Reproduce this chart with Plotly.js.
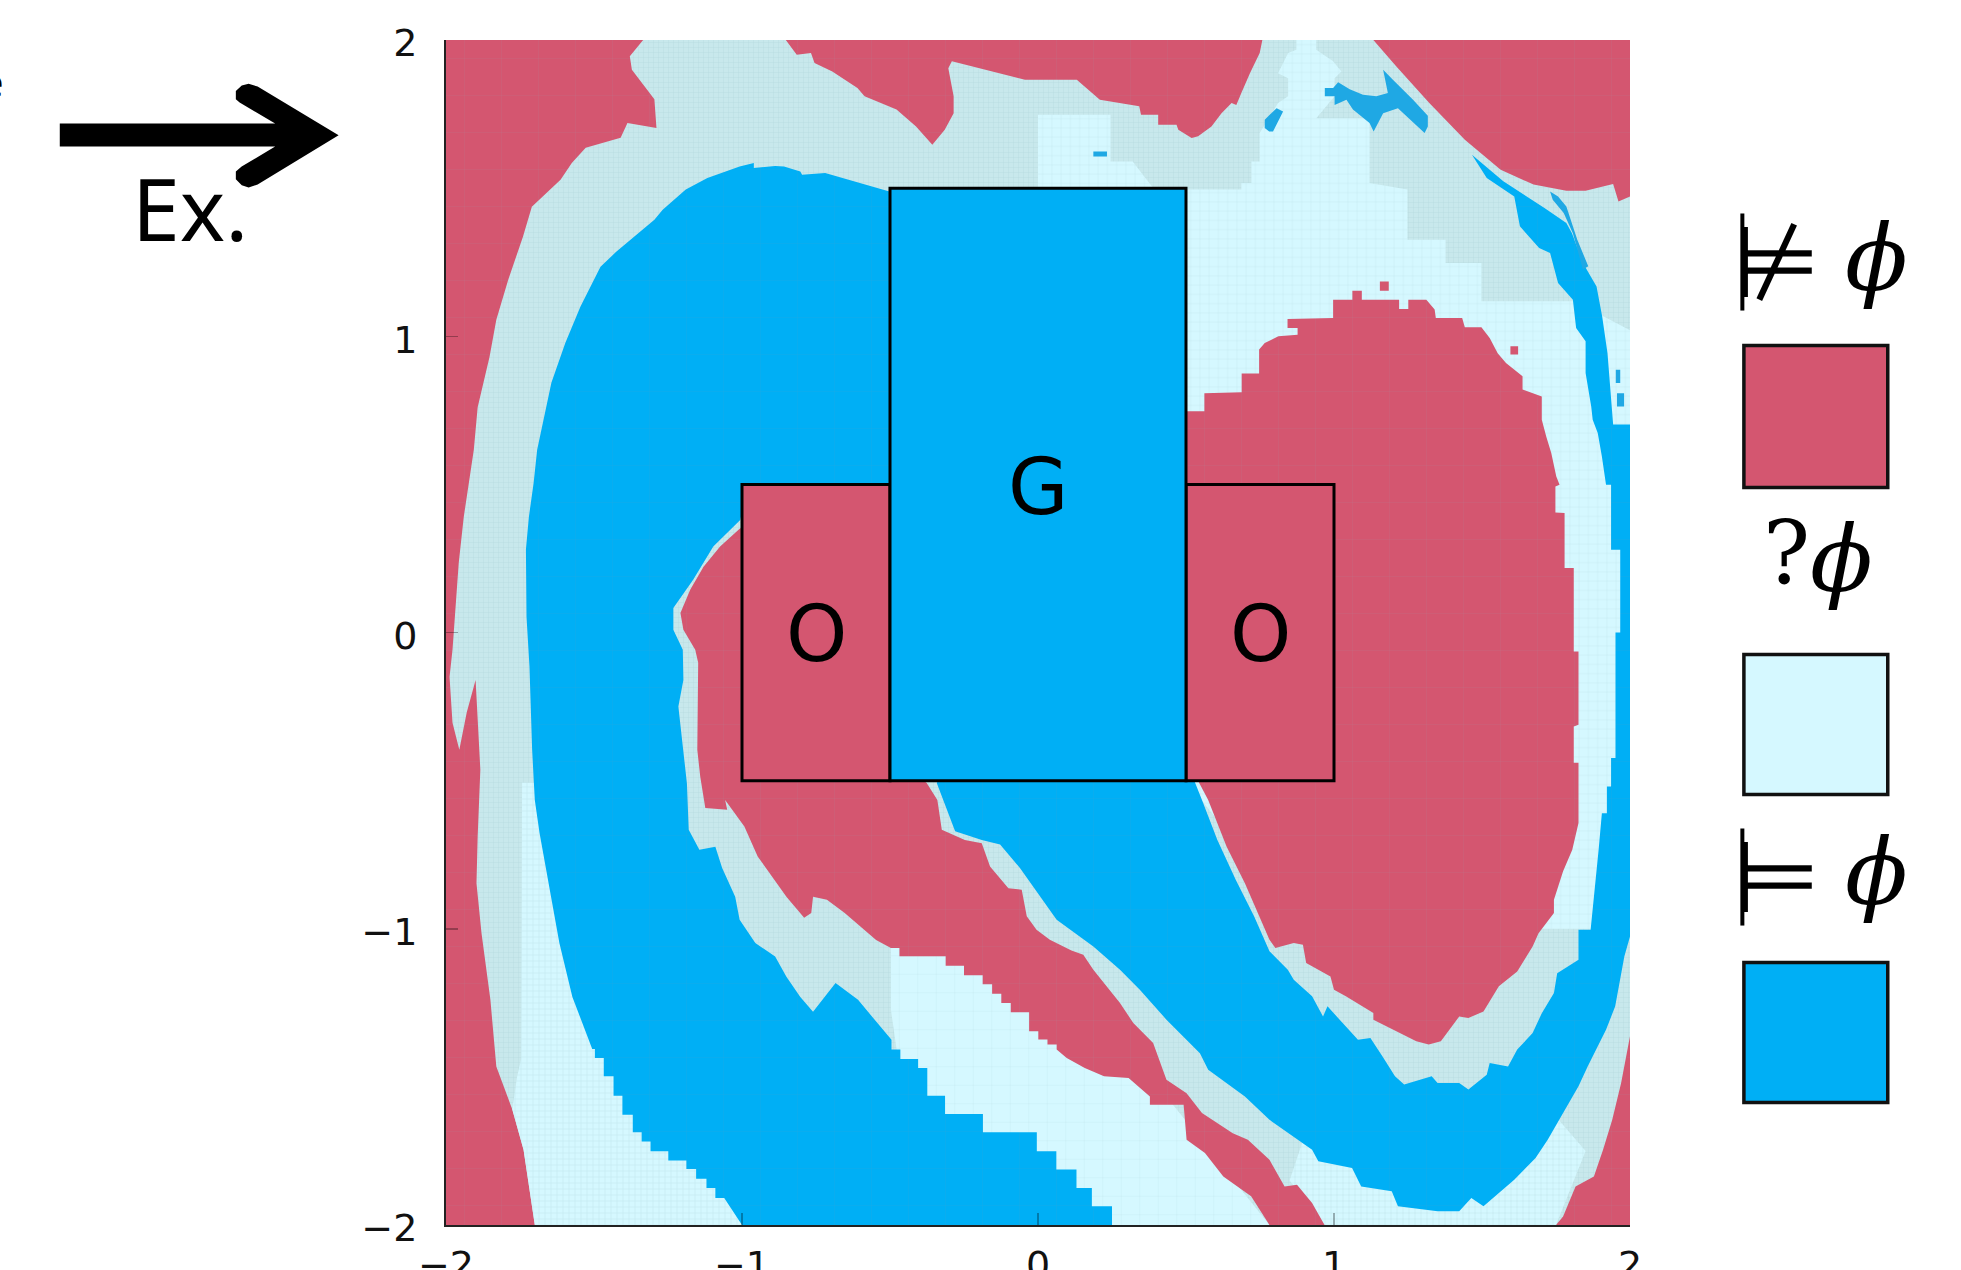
<!DOCTYPE html>
<html><head><meta charset="utf-8">
<script src="https://cdn.plot.ly/plotly-3.0.1.min.js"></script>
<style>html,body{margin:0;padding:0;background:#fff;overflow:hidden}</style>
</head><body><div id="chart" style="width:1961px;height:1270px"></div>
<script>
const RED='#d45670', BLUE='#00aff5', LIGHT='#d5f8ff', GREY='#c8e8ec', DEEP='#1fa8e4';

const frame=[[-2,-2],[2,-2],[2,2],[-2,2]];
const paleAll=[[-1.70,-2],[-1.738,-1.746],[-1.776,-1.61],[-1.83,-1.465],[-1.85,-1.24],[-1.88,-1.015],[-1.897,-.846],[-1.893,-.689],[-1.884,-.463],[-1.894,-.27],[-1.90,-.16],[-1.93,-.27],[-1.955,-.396],[-1.978,-.305],[-1.988,-.15],[-1.978,-.058],[-1.957,.235],[-1.94,.39],[-1.906,.617],[-1.893,.76],[-1.853,.93],[-1.83,1.056],[-1.79,1.19],[-1.74,1.336],[-1.71,1.437],[-1.613,1.528],[-1.575,1.585],[-1.528,1.636],[-1.41,1.67],[-1.387,1.72],[-1.289,1.703],[-1.296,1.80],[-1.372,1.90],[-1.379,1.945],[-1.334,2],[2,2],[2,-1.363],[1.97,-1.521],[1.94,-1.645],[1.909,-1.746],[1.878,-1.836],[1.816,-1.87],[1.774,-1.971],[1.75,-2]];
const lightCentre=[[.5,1.495],[.687,1.495],[.687,1.517],[.721,1.517],[.721,1.59],[.749,1.59],[.749,1.686],[.811,1.787],[.845,1.81],[.845,1.871],[.811,1.888],[.845,1.956],[.873,1.967],[.873,2],[.94,2],[.94,1.967],[.997,1.928],[1.025,1.894],[1.002,1.871],[1.002,1.81],[.94,1.736],[1.12,1.736],[1.12,1.517],[1.248,1.495],[1.248,1.326],[1.377,1.326],[1.377,1.247],[1.498,1.247],[1.498,1.118],[1.813,1.118],[2,1.02],[2,.6],[1.94,-1.0],[.9,-1.0],[.5,-.5]];
const lightSquare=[[0,1.748],[.245,1.748],[.245,1.59],[.32,1.59],[.366,1.53],[.39,1.5],[0,1.5]];
const lightLeft=[[-1.743,-.507],[-1.55,-.507],[-1,-1.9],[-1,-2],[-1.70,-2],[-1.738,-1.746],[-1.776,-1.61],[-1.76,-1.5],[-1.746,-1.44]];
const lightStair=[[-.497,-1.065],[-.468,-1.065],[-.468,-1.093],[-.312,-1.093],[.3,-1.4],[.782,-2],[.25,-2],[-.45,-1.6],[-.497,-1.273]];
const lightBottom=[[.97,-2],[1.75,-2],[1.85,-1.75],[1.72,-1.6],[.9,-1.7],[.85,-1.85]];

const redTop=[[-.852,2],[-.815,1.95],[-.767,1.956],[-.755,1.922],[-.695,1.894],[-.61,1.838],[-.586,1.81],[-.478,1.765],[-.412,1.708],[-.357,1.646],[-.315,1.697],[-.285,1.753],[-.285,1.81],[-.303,1.905],[-.291,1.928],[-.152,1.894],[-.044,1.866],[.131,1.866],[.209,1.798],[.342,1.776],[.348,1.748],[.406,1.748],[.406,1.714],[.468,1.714],[.474,1.697],[.519,1.669],[.541,1.675],[.586,1.708],[.62,1.753],[.654,1.787],[.67,1.781],[.687,1.821],[.716,1.888],[.749,1.956],[.758,2]];
const redCorner=[[1.133,2],[1.21,1.911],[1.322,1.787],[1.442,1.663],[1.563,1.562],[1.674,1.512],[1.785,1.491],[1.85,1.491],[1.943,1.514],[1.961,1.455],[2,1.472],[2,2]];
const redInner=[[.5,.747],[.562,.747],[.562,.808],[.688,.811],[.688,.874],[.747,.874],[.747,.955],[.766,.977],[.812,1],[.877,1.005],[.877,1.028],[.843,1.028],[.843,1.058],[.997,1.062],[.997,1.123],[1.062,1.123],[1.062,1.154],[1.094,1.154],[1.094,1.123],[1.22,1.123],[1.22,1.092],[1.251,1.092],[1.251,1.123],[1.312,1.123],[1.34,1.09],[1.344,1.062],[1.433,1.062],[1.442,1.03],[1.498,1.03],[1.526,.994],[1.553,.943],[1.581,.91],[1.637,.865],[1.637,.82],[1.702,.797],[1.702,.718],[1.717,.662],[1.734,.606],[1.751,.527],[1.762,.499],[1.748,.493],[1.748,.405],[1.779,.403],[1.779,.218],[1.81,.218],[1.81,-.064],[1.826,-.064],[1.826,-.311],[1.81,-.317],[1.81,-.44],[1.826,-.44],[1.826,-.643],[1.805,-.733],[1.774,-.806],[1.743,-.902],[1.743,-.947],[1.691,-1.015],[1.671,-1.06],[1.619,-1.144],[1.557,-1.194],[1.505,-1.279],[1.454,-1.301],[1.423,-1.296],[1.361,-1.38],[1.32,-1.391],[1.278,-1.38],[1.133,-1.307],[1.133,-1.284],[1.04,-1.228],[1,-1.206],[.988,-1.161],[.906,-1.116],[.895,-1.054],[.864,-1.048],[.802,-1.065],[.782,-1.037],[.699,-.846],[.637,-.722],[.575,-.565],[.53,-.48],[.45,-.4],[.45,.747]];
const redDiagonal=[[-1.006,.352],[-1.074,.29],[-1.13,.222],[-1.175,.144],[-1.208,.066],[-1.198,.009],[-1.158,-.058],[-1.148,-.102],[-1.151,-.396],[-1.141,-.487],[-1.124,-.592],[-1.05,-.598],[-1.057,-.565],[-.992,-.655],[-.947,-.756],[-.85,-.892],[-.79,-.963],[-.766,-.947],[-.76,-.892],[-.713,-.902],[-.653,-.947],[-.547,-1.038],[-.497,-1.065],[-.468,-1.065],[-.468,-1.093],[-.312,-1.093],[-.312,-1.125],[-.25,-1.125],[-.25,-1.157],[-.187,-1.157],[-.187,-1.187],[-.155,-1.187],[-.155,-1.219],[-.124,-1.219],[-.124,-1.251],[-.092,-1.251],[-.092,-1.282],[-.03,-1.282],[-.03,-1.346],[.001,-1.346],[.001,-1.374],[.032,-1.374],[.032,-1.391],[.063,-1.391],[.063,-1.408],[.097,-1.436],[.158,-1.47],[.223,-1.498],[.306,-1.504],[.378,-1.566],[.378,-1.594],[.492,-1.594],[.502,-1.712],[.564,-1.757],[.626,-1.836],[.72,-1.903],[.782,-2],[.968,-2],[.926,-1.926],[.875,-1.864],[.833,-1.87],[.782,-1.78],[.709,-1.712],[.658,-1.69],[.554,-1.622],[.502,-1.555],[.434,-1.51],[.389,-1.386],[.322,-1.318],[.277,-1.251],[.187,-1.138],[.153,-1.088],[.113,-1.073],[.04,-1.037],[-.005,-1.003],[-.038,-.958],[-.055,-.868],[-.1,-.863],[-.162,-.79],[-.19,-.711],[-.247,-.70],[-.325,-.666],[-.34,-.565],[-.376,-.508],[-.45,-.45],[-.95,.35]];
const redSpecks=[[1.155,1.154],[1.185,1.154],[1.185,1.185],[1.155,1.185],[null,null],[1.596,.938],[1.622,.938],[1.622,.966],[1.596,.966],[null,null],[1.80,-.56],[1.81,-.56],[1.81,-.53],[1.80,-.53]];

const blueLeft=[[-1,-2],[-1.06,-1.909],[-1.09,-1.909],[-1.09,-1.875],[-1.12,-1.875],[-1.12,-1.844],[-1.155,-1.844],[-1.155,-1.811],[-1.188,-1.811],[-1.188,-1.782],[-1.249,-1.782],[-1.249,-1.751],[-1.309,-1.751],[-1.309,-1.718],[-1.339,-1.718],[-1.339,-1.687],[-1.369,-1.687],[-1.369,-1.628],[-1.404,-1.628],[-1.404,-1.564],[-1.434,-1.564],[-1.434,-1.498],[-1.467,-1.498],[-1.467,-1.436],[-1.497,-1.436],[-1.497,-1.406],[-1.506,-1.406],[-1.573,-1.23],[-1.617,-1.048],[-1.654,-.846],[-1.684,-.677],[-1.70,-.565],[-1.709,-.396],[-1.718,-.115],[-1.728,.053],[-1.73,.28],[-1.72,.39],[-1.704,.505],[-1.692,.617],[-1.644,.843],[-1.597,.977],[-1.546,1.10],[-1.478,1.235],[-1.425,1.285],[-1.296,1.393],[-1.268,1.427],[-1.19,1.495],[-1.117,1.534],[-1.008,1.573],[-.96,1.585],[-.96,1.568],[-.888,1.575],[-.858,1.573],[-.803,1.556],[-.797,1.545],[-.719,1.551],[-.635,1.528],[-.502,1.489],[-.45,1.489],[-.45,.45],[-.99,.45],[-1.006,.38],[-1.097,.29],[-1.165,.178],[-1.232,.083],[-1.232,.009],[-1.20,-.058],[-1.198,-.16],[-1.215,-.25],[-1.20,-.396],[-1.186,-.51],[-1.18,-.666],[-1.144,-.733],[-1.09,-.723],[-1.067,-.795],[-1.023,-.892],[-1.008,-.97],[-.955,-1.048],[-.888,-1.094],[-.85,-1.162],[-.803,-1.23],[-.76,-1.28],[-.684,-1.183],[-.608,-1.24],[-.495,-1.375],[-.495,-1.408],[-.465,-1.408],[-.465,-1.44],[-.405,-1.44],[-.405,-1.47],[-.374,-1.47],[-.374,-1.564],[-.314,-1.564],[-.314,-1.625],[-.186,-1.625],[-.186,-1.687],[-.004,-1.687],[-.004,-1.751],[.062,-1.751],[.062,-1.813],[.13,-1.813],[.13,-1.875],[.182,-1.875],[.182,-1.937],[.25,-1.937],[.25,-2]];
const blueRing=[[-.342,-.508],[-.28,-.671],[-.19,-.70],[-.128,-.716],[-.061,-.795],[.035,-.93],[.063,-.97],[.187,-1.06],[.277,-1.138],[.344,-1.206],[.434,-1.307],[.547,-1.42],[.575,-1.476],[.699,-1.566],[.782,-1.645],[.926,-1.746],[.947,-1.785],[1.061,-1.808],[1.092,-1.87],[1.195,-1.886],[1.216,-1.937],[1.35,-1.954],[1.423,-1.954],[1.464,-1.909],[1.505,-1.937],[1.609,-1.847],[1.681,-1.774],[1.722,-1.712],[1.774,-1.622],[1.826,-1.532],[1.857,-1.465],[1.919,-1.341],[1.95,-1.262],[1.981,-1.093],[2,-1.026],[2,.702],[1.943,.702],[1.924,.943],[1.906,1.067],[1.887,1.168],[1.841,1.247],[1.804,1.348],[1.785,1.382],[1.711,1.433],[1.572,1.523],[1.466,1.613],[1.516,1.534],[1.609,1.472],[1.628,1.371],[1.693,1.298],[1.73,1.281],[1.757,1.18],[1.807,1.123],[1.818,1.028],[1.85,.983],[1.85,.876],[1.869,.763],[1.874,.718],[1.891,.673],[1.905,.594],[1.919,.499],[1.936,.499],[1.936,.279],[1.967,.279],[1.967,0],[1.951,0],[1.951,-.424],[1.936,-.424],[1.936,-.52],[1.922,-.52],[1.922,-.61],[1.905,-.61],[1.894,-.733],[1.878,-.88],[1.867,-1.003],[1.826,-1.003],[1.826,-1.105],[1.754,-1.15],[1.743,-1.217],[1.702,-1.285],[1.671,-1.352],[1.619,-1.408],[1.588,-1.465],[1.526,-1.453],[1.516,-1.493],[1.454,-1.543],[1.423,-1.521],[1.35,-1.521],[1.33,-1.498],[1.237,-1.526],[1.206,-1.498],[1.164,-1.431],[1.123,-1.369],[1.081,-1.375],[1.04,-1.33],[.978,-1.262],[.963,-1.296],[.926,-1.228],[.864,-1.172],[.844,-1.138],[.782,-1.076],[.73,-.958],[.668,-.835],[.606,-.70],[.554,-.565],[.52,-.48],[-.33,-.48]];
const blueTopIslands=[[.969,1.838],[.997,1.838],[1.014,1.857],[1.053,1.834],[1.098,1.815],[1.143,1.81],[1.182,1.821],[1.166,1.9],[1.199,1.866],[1.267,1.798],[1.317,1.744],[1.317,1.708],[1.306,1.686],[1.244,1.742],[1.216,1.77],[1.166,1.753],[1.134,1.691],[1.12,1.72],[1.064,1.765],[1.042,1.798],[1.002,1.781],[1.002,1.81],[.969,1.81],[null,null],[.766,1.731],[.806,1.77],[.828,1.759],[.811,1.725],[.794,1.691],[.781,1.691],[.766,1.703],[null,null],[.187,1.607],[.233,1.607],[.233,1.624],[.187,1.624]];
const blueSlivers=[[1.73,1.489],[1.757,1.472],[1.785,1.438],[1.822,1.326],[1.859,1.236],[1.841,1.225],[1.807,1.348],[1.776,1.416],[1.739,1.461],[null,null],[1.952,.842],[1.967,.842],[1.967,.887],[1.952,.887],[null,null],[1.956,.763],[1.98,.763],[1.98,.808],[1.956,.808]];

const goal=[-.5,.5,-.5,1.5];
const obstacleLeft=[-1,-.5,-.5,.5];
const obstacleRight=[.5,1,-.5,.5];
const arrowOutline=[[-.3262,.9295],[-.1443,.9295],[-.1743,.9472],[-.1775,.9500],[-.1775,.9570],[-.1725,.9615],[-.1667,.9630],[-.1591,.9608],[-.0907,.9197],[-.1591,.8780],[-.1667,.8755],[-.1725,.8775],[-.1775,.8825],[-.1775,.8890],[-.1726,.8932],[-.1443,.9101],[-.3262,.9101]];
const legendX=[1.0962,1.2177];
const legendRows=[[.6224,.7422,RED],[.3633,.4814,LIGHT],[.1034,.2215,BLUE]];
const turnstileBars=[[1.0949,.7717,.8536],[1.0949,.2527,.3346]];

function region(pts,color,pattern){
  const t={type:'scatter',mode:'lines',x:pts.map(p=>p[0]),y:pts.map(p=>p[1]),fill:'toself',fillcolor:color,
    line:{width:0,color:color},hoverinfo:'skip',showlegend:false};
  if(pattern) t.fillpattern={shape:'+',fillmode:'replace',bgcolor:color,fgcolor:pattern[0],fgopacity:pattern[1],size:pattern[2],solidity:pattern[3]};
  return t;
}
const redMesh=['#a89',.4,37,.02], blueMesh=['#4a9ec8',.35,37,.02];
const data=[
  region(frame,RED,redMesh),
  region(paleAll,GREY,['#9cc4ca',.5,5,.12]),
  region(lightCentre,LIGHT,['#8fb8c0',.5,9.25,.05]),
  region(lightSquare,LIGHT,['#8fb8c0',.5,9.25,.05]),
  region(lightLeft,LIGHT,['#8fb8c0',.6,6,.07]),
  region(lightStair,LIGHT,['#8fb8c0',.5,18.5,.02]),
  region(lightBottom,LIGHT,['#8fb8c0',.6,6,.08]),
  region(redTop,RED,redMesh),
  region(redCorner,RED,redMesh),
  region(redInner,RED,redMesh),
  region(redDiagonal,RED,redMesh),
  region(redSpecks,RED),
  region(blueLeft,BLUE,blueMesh),
  region(blueRing,BLUE,blueMesh),
  region(blueTopIslands,DEEP),
  region(blueSlivers,DEEP)
];
function rect(b,color){return {type:'rect',xref:'x',yref:'y',x0:b[0],x1:b[1],y0:b[2],y1:b[3],fillcolor:color,line:{color:'#000',width:3},layer:'above'};}
const shapes=[rect(obstacleLeft,RED),rect(obstacleRight,RED),rect(goal,BLUE),
 {type:'path',xref:'paper',yref:'paper',fillcolor:'#000',line:{width:0},
  path:'M'+arrowOutline.map(p=>p[0]+','+p[1]).join(' L')+' Z'}];
legendRows.forEach(r=>shapes.push({type:'rect',xref:'paper',yref:'paper',x0:legendX[0],x1:legendX[1],y0:r[0],y1:r[1],fillcolor:r[2],line:{color:'#111',width:3.5}}));
turnstileBars.forEach(b=>shapes.push({type:'line',xref:'paper',yref:'paper',x0:b[0],x1:b[0],y0:b[1],y1:b[2],line:{color:'#000',width:4}}));
const mono='DejaVu Sans', serif='DejaVu Serif';
function note(t,x,y,size,family,anchor,ref,style){
  return {text:t,xref:ref||'paper',yref:ref||'paper',x:x,y:y,showarrow:false,xanchor:anchor||'center',yanchor:'middle',
    font:{family:family,size:size,color:'#000',style:style||'normal'}};
}
const annotations=[
  note('G',0,.49,78,mono,'center','x'),
  note('O',-.75,-.005,78,mono,'center','x'),
  note('O',.75,-.005,78,mono,'center','x'),
  note('Ex.',-.2165,.859,86,'Noto Sans'),
  note('e',-.3715,.9652,40,'Noto Sans','right'),
  note('⊭',1.1236,.8122,100,mono),
  note('ϕ',1.2080,.8152,92,serif,'center','paper','italic'),
  note('?',1.132,.5667,88,serif),
  note('ϕ',1.1785,.5615,92,serif,'center','paper','italic'),
  note('⊨',1.1236,.2932,100,mono),
  note('ϕ',1.2080,.2972,92,serif,'center','paper','italic')
];
const axis={range:[-2,2],tickvals:[-2,-1,0,1,2],ticks:'inside',ticklen:12,tickwidth:1.5,tickcolor:'rgba(0,0,0,.3)',
  showline:true,linecolor:'#222',linewidth:2,zeroline:false,showgrid:false,mirror:false,
  tickfont:{family:mono,size:38,color:'#111'},automargin:false,fixedrange:true};
Plotly.newPlot('chart',data,{
  width:1961,height:1270,margin:{l:445.5,r:330.5,t:40,b:44.5,pad:0},
  paper_bgcolor:'#fff',plot_bgcolor:'#fff',showlegend:false,
  xaxis:Object.assign({},axis,{ticklabelstandoff:5}),
  yaxis:Object.assign({},axis,{ticklabelstandoff:19,ticklabelshift:3}),
  shapes:shapes,annotations:annotations
},{displayModeBar:false,staticPlot:true});
</script></body></html>
